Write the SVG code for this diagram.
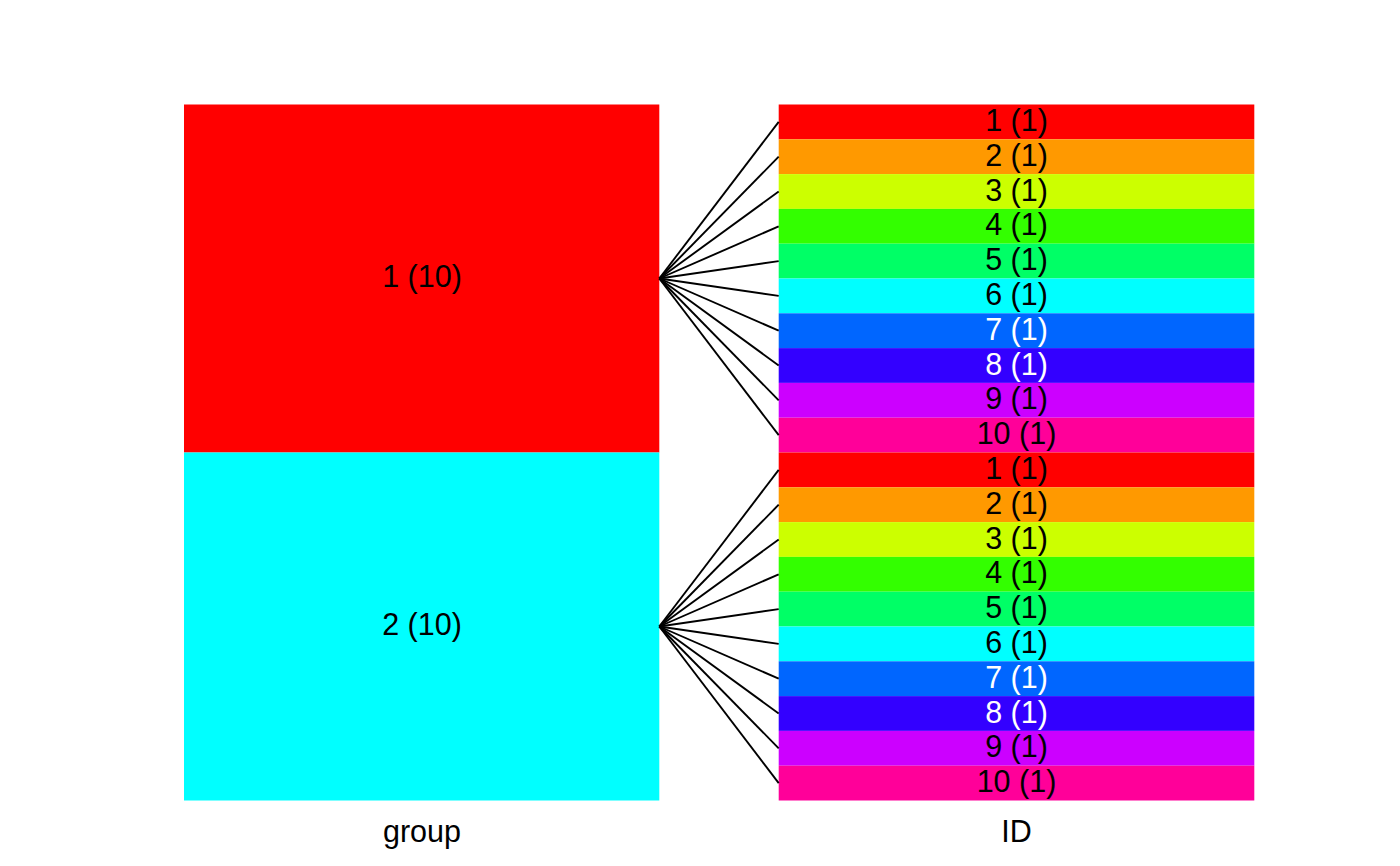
<svg xmlns="http://www.w3.org/2000/svg" width="1400" height="866" viewBox="0 0 1400 866">
<style>
text{font-family:"Liberation Sans",Arial,sans-serif;font-size:30.5px;text-anchor:middle;dominant-baseline:central}
.w{fill:#fff}
.c line{stroke:#000;stroke-width:1.9}
</style>
<rect width="1400" height="866" fill="#fff"/>
<g id="group1"><rect x="184" y="104.5" width="475.3" height="348" fill="#FF0000"/><text x="422" y="276">1 (10)</text></g>
<g id="group2"><rect x="184" y="452.5" width="475.3" height="348" fill="#00FFFF"/><text x="422" y="624">2 (10)</text></g>
<g id="ids">
<g id="id1a"><rect x="778.7" y="104.5" width="475.6" height="34.8" fill="#FF0000"/><text x="1016.5" y="119.9">1 (1)</text></g>
<g id="id2a"><rect x="778.7" y="139.3" width="475.6" height="34.8" fill="#FF9900"/><text x="1016.5" y="154.7">2 (1)</text></g>
<g id="id3a"><rect x="778.7" y="174.1" width="475.6" height="34.8" fill="#CCFF00"/><text x="1016.5" y="189.5">3 (1)</text></g>
<g id="id4a"><rect x="778.7" y="208.9" width="475.6" height="34.8" fill="#33FF00"/><text x="1016.5" y="224.3">4 (1)</text></g>
<g id="id5a"><rect x="778.7" y="243.7" width="475.6" height="34.8" fill="#00FF66"/><text x="1016.5" y="259.1">5 (1)</text></g>
<g id="id6a"><rect x="778.7" y="278.5" width="475.6" height="34.8" fill="#00FFFF"/><text x="1016.5" y="293.9">6 (1)</text></g>
<g id="id7a"><rect x="778.7" y="313.3" width="475.6" height="34.8" fill="#0066FF"/><text class="w" x="1016.5" y="328.7">7 (1)</text></g>
<g id="id8a"><rect x="778.7" y="348.1" width="475.6" height="34.8" fill="#3300FF"/><text class="w" x="1016.5" y="363.5">8 (1)</text></g>
<g id="id9a"><rect x="778.7" y="382.9" width="475.6" height="34.8" fill="#CC00FF"/><text x="1016.5" y="398.3">9 (1)</text></g>
<g id="id10a"><rect x="778.7" y="417.7" width="475.6" height="34.8" fill="#FF0099"/><text x="1016.5" y="433.1">10 (1)</text></g>
<g id="id1b"><rect x="778.7" y="452.5" width="475.6" height="34.8" fill="#FF0000"/><text x="1016.5" y="467.9">1 (1)</text></g>
<g id="id2b"><rect x="778.7" y="487.3" width="475.6" height="34.8" fill="#FF9900"/><text x="1016.5" y="502.7">2 (1)</text></g>
<g id="id3b"><rect x="778.7" y="522.1" width="475.6" height="34.8" fill="#CCFF00"/><text x="1016.5" y="537.5">3 (1)</text></g>
<g id="id4b"><rect x="778.7" y="556.9" width="475.6" height="34.8" fill="#33FF00"/><text x="1016.5" y="572.3">4 (1)</text></g>
<g id="id5b"><rect x="778.7" y="591.7" width="475.6" height="34.8" fill="#00FF66"/><text x="1016.5" y="607.1">5 (1)</text></g>
<g id="id6b"><rect x="778.7" y="626.5" width="475.6" height="34.8" fill="#00FFFF"/><text x="1016.5" y="641.9">6 (1)</text></g>
<g id="id7b"><rect x="778.7" y="661.3" width="475.6" height="34.8" fill="#0066FF"/><text class="w" x="1016.5" y="676.7">7 (1)</text></g>
<g id="id8b"><rect x="778.7" y="696.1" width="475.6" height="34.8" fill="#3300FF"/><text class="w" x="1016.5" y="711.5">8 (1)</text></g>
<g id="id9b"><rect x="778.7" y="730.9" width="475.6" height="34.8" fill="#CC00FF"/><text x="1016.5" y="746.3">9 (1)</text></g>
<g id="id10b"><rect x="778.7" y="765.7" width="475.6" height="34.8" fill="#FF0099"/><text x="1016.5" y="781.1">10 (1)</text></g>
</g>
<g id="connectors" class="c">
<line x1="659.3" y1="278.5" x2="778.7" y2="121.9"/>
<line x1="659.3" y1="278.5" x2="778.7" y2="156.7"/>
<line x1="659.3" y1="278.5" x2="778.7" y2="191.5"/>
<line x1="659.3" y1="278.5" x2="778.7" y2="226.3"/>
<line x1="659.3" y1="278.5" x2="778.7" y2="261.1"/>
<line x1="659.3" y1="278.5" x2="778.7" y2="295.9"/>
<line x1="659.3" y1="278.5" x2="778.7" y2="330.7"/>
<line x1="659.3" y1="278.5" x2="778.7" y2="365.5"/>
<line x1="659.3" y1="278.5" x2="778.7" y2="400.3"/>
<line x1="659.3" y1="278.5" x2="778.7" y2="435.1"/>
<line x1="659.3" y1="626.5" x2="778.7" y2="469.9"/>
<line x1="659.3" y1="626.5" x2="778.7" y2="504.7"/>
<line x1="659.3" y1="626.5" x2="778.7" y2="539.5"/>
<line x1="659.3" y1="626.5" x2="778.7" y2="574.3"/>
<line x1="659.3" y1="626.5" x2="778.7" y2="609.1"/>
<line x1="659.3" y1="626.5" x2="778.7" y2="643.9"/>
<line x1="659.3" y1="626.5" x2="778.7" y2="678.7"/>
<line x1="659.3" y1="626.5" x2="778.7" y2="713.5"/>
<line x1="659.3" y1="626.5" x2="778.7" y2="748.3"/>
<line x1="659.3" y1="626.5" x2="778.7" y2="783.1"/>
</g>
<text x="422" y="831">group</text>
<text x="1016.5" y="831">ID</text>
</svg>
